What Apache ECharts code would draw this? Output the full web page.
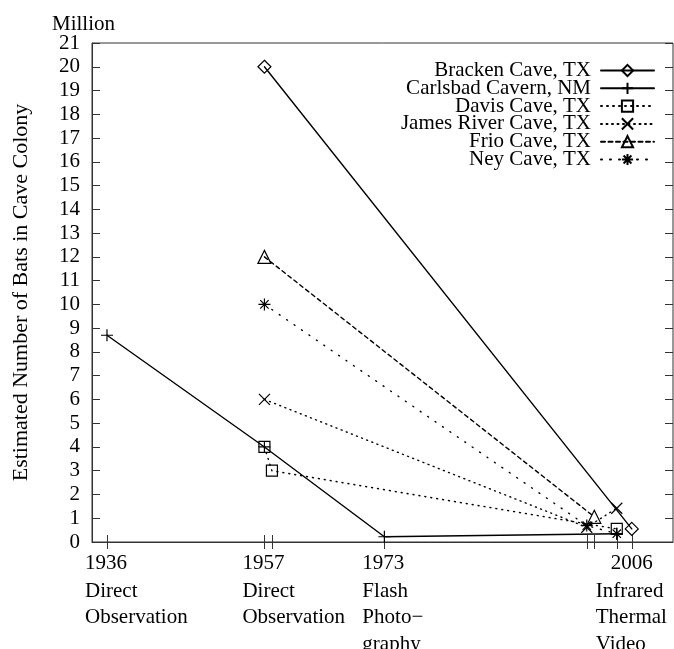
<!DOCTYPE html>
<html><head><meta charset="utf-8">
<script src="https://cdn.jsdelivr.net/npm/echarts@6/dist/echarts.min.js"></script>
<style>html,body{margin:0;padding:0;background:#fff}#c{width:674px;height:649px}</style>
</head><body><div id="c"></div>
<script>
// ---- data ----
const seriesNames = ['Bracken Cave, TX', 'Carlsbad Cavern, NM', 'Davis Cave, TX', 'James River Cave, TX', 'Frio Cave, TX', 'Ney Cave, TX'];
const brackenYears = [1957, 2006];
const brackenValues = [20, 0.55];
const carlsbadYears = [1936, 1957, 1973, 2004];
const carlsbadValues = [8.7, 4.0, 0.22, 0.35];
const davisYears = [1957, 1958, 2004];
const davisValues = [4.0, 3.0, 0.55];
const jamesYears = [1957, 2000, 2004];
const jamesValues = [6.0, 0.62, 1.42];
const frioYears = [1957, 2001];
const frioValues = [12.0, 1.06];
const neyYears = [1957, 2000, 2004];
const neyValues = [10.0, 0.69, 0.35];
const tickYears = [1936, 1957, 1958, 1973, 2000, 2001, 2004, 2006];
const labelYears = [1936, 1957, 1973, 2006];
const labelMethods = [['Direct', 'Observation'], ['Direct', 'Observation'], ['Flash', 'Photo\u2212', 'graphy'], ['Infrared', 'Thermal', 'Video']];
const yMin = 0, yMax = 21, yStep = 1;
const yUnit = 'Million';
const yTitle = 'Estimated Number of Bats in Cave Colony';

// ---- styling ----
const FONT = "'Liberation Serif', 'DejaVu Serif', serif";
const AX = '#333';
const zip = (xs, ys) => xs.map((x, i) => [x, ys[i]]);
const styles = [
  { symbol: 'diamond', size: 13, dash: 'solid' },
  { symbol: 'path://M5,0 L5,10 M0,5 L10,5', size: 12, dash: 'solid' },
  { symbol: 'rect', size: 11, dash: [1, 5] },
  { symbol: 'path://M0,0 L10,10 M10,0 L0,10', size: 11, dash: [1, 4.5] },
  { symbol: 'triangle', size: 13, dash: [4, 3.5] },
  { symbol: 'path://M5,0 L5,10 M0,5 L10,5 M1.5,1.5 L8.5,8.5 M8.5,1.5 L1.5,8.5', size: 12, dash: [1, 8] }
];
const seriesData = [
  zip(brackenYears, brackenValues),
  zip(carlsbadYears, carlsbadValues),
  zip(davisYears, davisValues),
  zip(jamesYears, jamesValues),
  zip(frioYears, frioValues),
  zip(neyYears, neyValues)
];

const chart = echarts.init(document.getElementById('c'), null, { renderer: 'canvas' });

const rich = {
  y: { fontFamily: FONT, fontSize: 21, lineHeight: 30, width: 44, align: 'left', color: '#000' },
  d: { fontFamily: FONT, fontSize: 21, lineHeight: 26.5, width: 44, align: 'left', color: '#000' },
  y4: { fontFamily: FONT, fontSize: 21, lineHeight: 30, width: 44, align: 'center', color: '#000' },
  d4: { fontFamily: FONT, fontSize: 21, lineHeight: 26.5, width: 72, align: 'left', color: '#000' }
};

function xLabel(value) {
  let idx = 0, best = Infinity;
  labelYears.forEach((y, i) => { const d = Math.abs(y - value); if (d < best) { best = d; idx = i; } });
  const last = idx === labelYears.length - 1;
  const ys = last ? 'y4' : 'y', ds = last ? 'd4' : 'd';
  return ['{' + ys + '|' + labelYears[idx] + '}'].concat(labelMethods[idx].map(t => '{' + ds + '|' + t + '}')).join('\n');
}

const option = {
  animation: false,
  backgroundColor: '#fff',
  textStyle: { fontFamily: FONT, color: '#000' },
  title: {
    text: yUnit, left: 47, top: 9,
    textStyle: { fontFamily: FONT, fontSize: 21, fontWeight: 'normal', color: '#000' }
  },
  legend: {
    orient: 'vertical', right: 14, top: 55, align: 'right',
    itemWidth: 53, itemHeight: 14, itemGap: -3.2,
    data: seriesNames,
    textStyle: { fontFamily: FONT, fontSize: 21, lineHeight: 18, color: '#000', padding: [0, 5, 0, 0] },
    selectedMode: false
  },
  grid: { left: 92, right: 1, top: 43, bottom: 107, show: true, borderColor: AX, borderWidth: 1, containLabel: false, outerBoundsMode: 'none' },
  xAxis: [
    {
      type: 'value', min: 1934, max: 2011.5, position: 'bottom',
      axisLine: { show: true, lineStyle: { color: AX, width: 1 } },
      splitLine: { show: false },
      axisTick: { show: true, inside: true, length: 7, customValues: tickYears, lineStyle: { color: AX } },
      axisLabel: { show: true, customValues: labelYears, formatter: xLabel, rich: rich, margin: 6, align: 'center', color: '#000' }
    },
    {
      type: 'value', min: 1934, max: 2011.5, position: 'top',
      axisLine: { show: false },
      splitLine: { show: false },
      axisTick: { show: true, inside: true, length: 7, customValues: tickYears, lineStyle: { color: AX } },
      axisLabel: { show: false }
    }
  ],
  yAxis: [
    {
      type: 'value', min: yMin, max: yMax, interval: yStep, position: 'left',
      name: yTitle, nameLocation: 'middle', nameGap: 60,
      nameTextStyle: { fontFamily: FONT, fontSize: 22, color: '#000' },
      axisLine: { show: true, lineStyle: { color: AX, width: 1 } },
      splitLine: { show: false },
      axisTick: { show: true, inside: true, length: 8, lineStyle: { color: AX } },
      axisLabel: { fontFamily: FONT, fontSize: 21, margin: 12, color: '#000' }
    },
    {
      type: 'value', min: yMin, max: yMax, interval: yStep, position: 'right',
      axisLine: { show: false },
      splitLine: { show: false },
      axisTick: { show: true, inside: true, length: 8, lineStyle: { color: AX } },
      axisLabel: { show: false }
    }
  ],
  series: seriesNames.map((name, i) => ({
    type: 'line', name: name,
    xAxisIndex: 0, yAxisIndex: 0,
    data: seriesData[i],
    symbol: styles[i].symbol, symbolSize: styles[i].size, showSymbol: true,
    lineStyle: { color: '#000', width: 1.4, type: styles[i].dash, cap: 'round' },
    itemStyle: { color: 'rgba(0,0,0,0)', borderColor: '#000', borderWidth: 1.2 },
    emphasis: { disabled: true },
    z: 10 - i
  }))
};
chart.setOption(option);
</script>
</body></html>
